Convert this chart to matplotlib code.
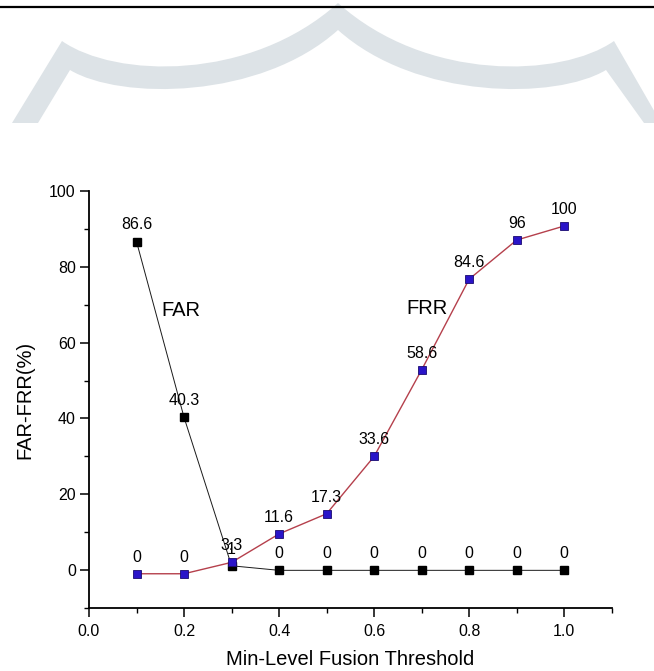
import matplotlib
matplotlib.use("Agg")
import matplotlib.pyplot as plt
from matplotlib.path import Path
from matplotlib.patches import PathPatch
from matplotlib.lines import Line2D
from matplotlib.ticker import MultipleLocator

plt.rcParams['font.family'] = ['Liberation Sans', 'DejaVu Sans']

# ---- data ----
thresholds = [0.1, 0.2, 0.3, 0.4, 0.5, 0.6, 0.7, 0.8, 0.9, 1.0]
far_values = [86.6, 40.3, 1.2, 0, 0, 0, 0, 0, 0, 0]
far_labels = ["86.6", "40.3", "1", "0", "0", "0", "0", "0", "0", "0"]
frr_values = [-0.9, -0.9, 2.1, 9.6, 14.9, 30.0, 52.8, 76.7, 87.0, 90.7]
frr_labels = ["0", "0", "3.3", "11.6", "17.3", "33.6", "58.6", "84.6", "96", "100"]
x_ticks = [0.0, 0.2, 0.4, 0.6, 0.8, 1.0]
y_ticks = [0, 20, 40, 60, 80, 100]

W, H = 654, 671
fig = plt.figure(figsize=(W / 100, H / 100), dpi=100)

def P(x, y):
    return (x / W, 1 - y / H)

# ---- decorative watermark band and top rule ----
wm_color = '#dde3e7'
verts = [P(12, 123), P(62, 41),
         P(115, 78), P(250, 82), P(338, 3),
         P(426, 82), P(561, 78), P(614, 41),
         P(660, 121), P(660, 123), P(644, 123), P(606, 70),
         P(556, 100), P(416, 100), P(338, 30),
         P(260, 100), P(120, 100), P(70, 70),
         P(38, 123), P(12, 123)]
codes = [Path.MOVETO, Path.LINETO,
         Path.CURVE4, Path.CURVE4, Path.CURVE4,
         Path.CURVE4, Path.CURVE4, Path.CURVE4,
         Path.LINETO, Path.LINETO, Path.LINETO, Path.LINETO,
         Path.CURVE4, Path.CURVE4, Path.CURVE4,
         Path.CURVE4, Path.CURVE4, Path.CURVE4,
         Path.LINETO, Path.CLOSEPOLY]
fig.patches.append(PathPatch(Path(verts, codes), transform=fig.transFigure,
                             facecolor=wm_color, edgecolor='none', zorder=0))
fig.lines.append(Line2D([0, 1], [1 - 7 / H, 1 - 7 / H], transform=fig.transFigure,
                        color='black', lw=1.6, zorder=2))

# ---- axes ----
ax = fig.add_axes([89 / W, 1 - 608.3 / H, (611.7 - 89) / W, (608.3 - 190.7) / H])
ax.set_facecolor('none')

ax.plot(thresholds, far_values, color='#1a1a1a', lw=0.7, marker='s', ms=5.5,
        mfc='black', mec='black', zorder=3)
ax.plot(thresholds, frr_values, color='#b5404c', lw=1.0, marker='s', ms=5.5,
        mfc='#2a14c8', mec='#1a0a70', mew=0.6, zorder=4)

for x, y, s in zip(thresholds, far_values, far_labels):
    ax.annotate(s, (x, y), xytext=(0, 12), textcoords='offset points',
                ha='center', va='center', fontsize=11.5, zorder=5)
for x, y, s in zip(thresholds, frr_values, frr_labels):
    ax.annotate(s, (x, y), xytext=(0, 12), textcoords='offset points',
                ha='center', va='center', fontsize=11.5, zorder=5)

ax.text(0.194, 68.4, "FAR", fontsize=14.5, ha='center', va='center')
ax.text(0.712, 69.0, "FRR", fontsize=14.5, ha='center', va='center')

ax.set_xlim(0, 1.1)
ax.set_ylim(-10, 100)
ax.set_xticks(x_ticks)
ax.set_xticklabels([f"{v:.1f}" for v in x_ticks])
ax.set_yticks(y_ticks)
ax.set_yticklabels([str(v) for v in y_ticks])
ax.xaxis.set_minor_locator(MultipleLocator(0.1))
ax.yaxis.set_minor_locator(MultipleLocator(10))

for s in ['top', 'right']:
    ax.spines[s].set_visible(False)
for s in ['left', 'bottom']:
    ax.spines[s].set_linewidth(1.3)

ax.tick_params(which='major', direction='out', length=6.5, width=1.1,
               labelsize=11.5, colors='black')
ax.tick_params(axis='x', which='major', pad=5)
ax.tick_params(axis='y', which='major', pad=3)
ax.tick_params(which='minor', direction='out', length=3.5, width=1.0)

ax.set_xlabel("Min-Level Fusion Threshold", fontsize=14.5)
ax.set_ylabel("FAR-FRR(%)", fontsize=14.5)
ax.xaxis.set_label_coords(0.5, -0.1)
ax.yaxis.set_label_coords(-0.105, 0.5)

fig.savefig("out.png", dpi=100)
